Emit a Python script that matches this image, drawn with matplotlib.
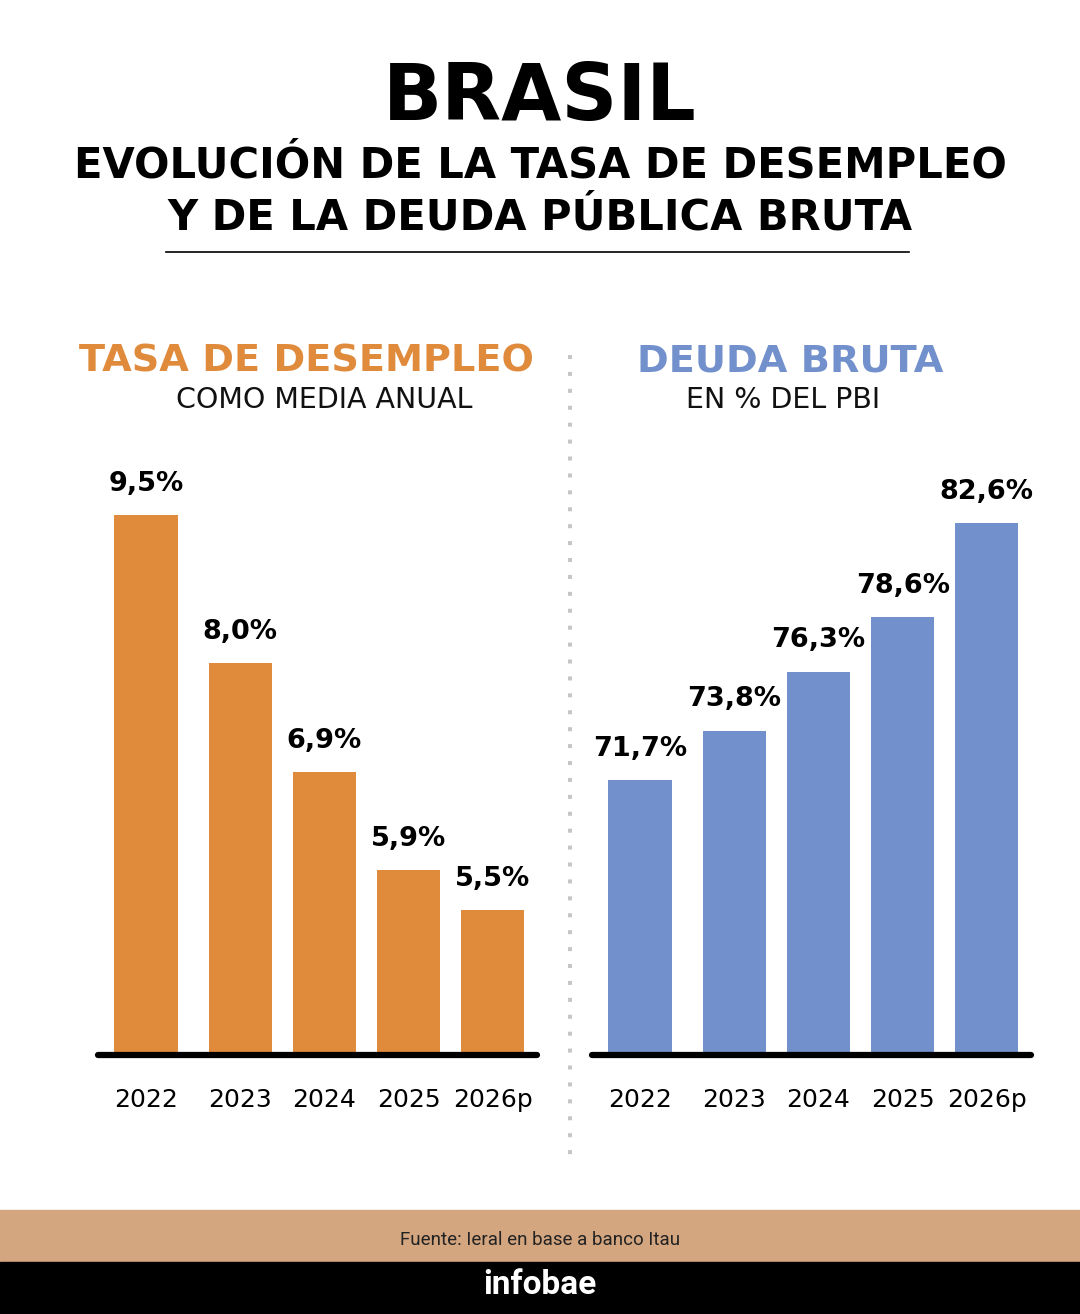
import matplotlib.pyplot as plt
from matplotlib.lines import Line2D
from matplotlib.patches import Rectangle

# data
years = ["2022", "2023", "2024", "2025", "2026p"]
desempleo = [9.5, 8.0, 6.9, 5.9, 5.5]
deuda = [71.7, 73.8, 76.3, 78.6, 82.6]
desempleo_labels = ["9,5%", "8,0%", "6,9%", "5,9%", "5,5%"]
deuda_labels = ["71,7%", "73,8%", "76,3%", "78,6%", "82,6%"]

ORANGE = "#E08A3C"
BLUE = "#7190CC"
TAN = "#D4A680"

W, H = 1080, 1314
fig = plt.figure(figsize=(W / 100, H / 100), dpi=100)
fig.patch.set_facecolor("white")


def px(x, y):
    # pixel coords (top-left origin) -> figure fraction
    return x / W, 1 - y / H


# header
fig.text(*px(540, 98), "BRASIL", ha="center", va="center",
         fontsize=56, fontweight="bold", color="black")
fig.text(*px(540, 165), "EVOLUCIÓN DE LA TASA DE DESEMPLEO", ha="center", va="center",
         fontsize=30, fontweight="bold", color="black")
fig.text(*px(540, 218), "Y DE LA DEUDA PÚBLICA BRUTA", ha="center", va="center",
         fontsize=30, fontweight="bold", color="black")
fig.add_artist(Line2D([166 / W, 909 / W], [1 - 252 / H] * 2, color="black", lw=1.2))

# panel titles
fig.text(*px(306, 362), "TASA DE DESEMPLEO", ha="center", va="center",
         fontsize=27.5, fontweight="bold", color=ORANGE)
fig.text(*px(324, 400), "COMO MEDIA ANUAL", ha="center", va="center",
         fontsize=20.5, color="#111111")
fig.text(*px(790, 362), "DEUDA BRUTA", ha="center", va="center",
         fontsize=27.5, fontweight="bold", color=BLUE)
fig.text(*px(783, 400), "EN % DEL PBI", ha="center", va="center",
         fontsize=20.5, color="#111111")

# divider
fig.add_artist(Line2D([570 / W] * 2, [1 - 355 / H, 1 - 1160 / H], color="#C6C6C6",
                      lw=2.9, linestyle=(0, (1, 3.2))))

pos = [0, 1.12, 2.12, 3.12, 4.12]
top_px, base_px = 440, 1055


def panel(left_px, values, labels, color, ymin, px_per_unit):
    ax = fig.add_axes([left_px / W, 1 - base_px / H, 439 / W, (base_px - top_px) / H])
    ax.bar(pos, values, width=0.75, color=color, bottom=0, zorder=2)
    ax.set_ylim(ymin, ymin + (base_px - top_px) / px_per_unit)
    ax.set_xlim(-0.57, 4.645)
    for x, v, lab in zip(pos, values, labels):
        ax.annotate(lab, (x, v), xytext=(0, 13), textcoords="offset points",
                    ha="center", va="bottom", fontsize=19.5, fontweight="bold")
    ax.axhline(ymin, color="black", lw=4.5, solid_capstyle="round", clip_on=False, zorder=3)
    ax.set_xticks(pos, years)
    ax.tick_params(axis="x", length=0, pad=24, labelsize=18)
    ax.set_yticks([])
    for s in ax.spines.values():
        s.set_visible(False)
    ax.patch.set_alpha(0)
    return ax


panel(98, desempleo, desempleo_labels, ORANGE, 4.03, 98.7)
panel(592, deuda, deuda_labels, BLUE, 60.05, 23.6)

# footer
fig.add_artist(Rectangle(px(0, 1262), 1, 52 / H, color=TAN, transform=fig.transFigure))
fig.add_artist(Rectangle(px(0, 1314), 1, 52 / H, color="black", transform=fig.transFigure))
fig.text(*px(540, 1240), "Fuente: Ieral en base a banco Itau", ha="center", va="center",
         fontsize=13.5, family="Roboto", color="#222222")
fig.text(*px(540, 1285), "infobae", ha="center", va="center",
         fontsize=24, family="Roboto", fontweight="bold", color="white")

fig.savefig("out.png", dpi=100)
